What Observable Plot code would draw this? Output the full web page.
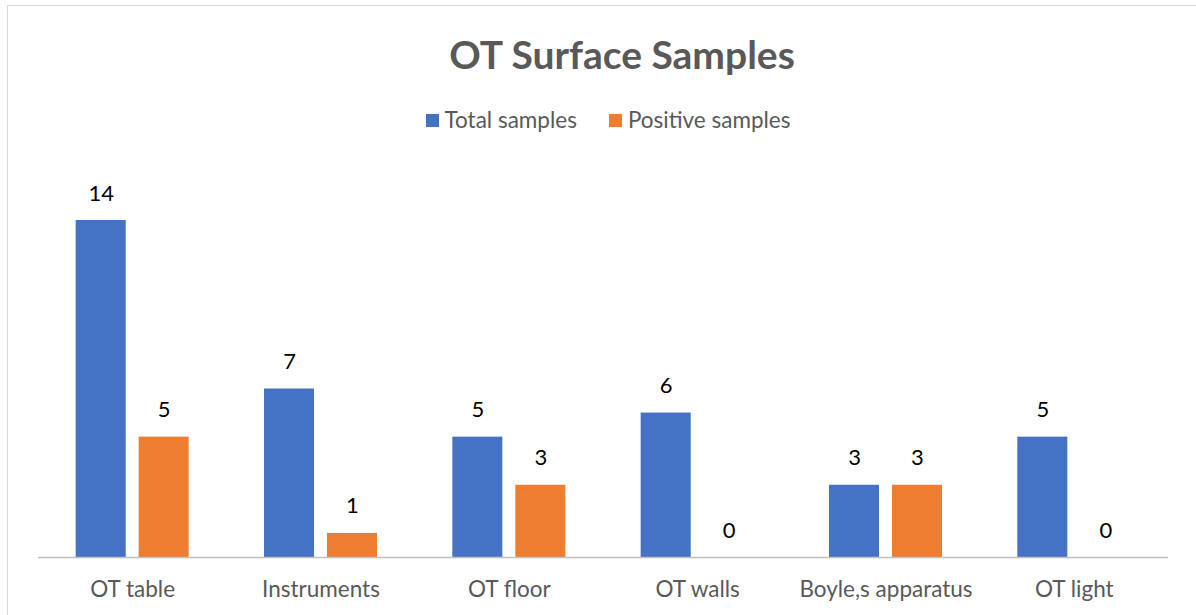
<!DOCTYPE html>
<html>
<head>
<meta charset="utf-8">
<script src="https://cdn.jsdelivr.net/npm/d3@7"></script>
<script src="https://cdn.jsdelivr.net/npm/@observablehq/plot@0.6"></script>
<style>
  html, body { margin: 0; padding: 0; background: #fff; overflow: hidden; width: 1196px; height: 615px; }
  body { position: relative; font-family: Lato, "Open Sans", sans-serif; }
  #frame { position: absolute; left: 7px; top: 5px; width: 1400px; height: 800px; border: 1px solid #d9d9d9; box-sizing: border-box; }
  #title { position: absolute; left: 0; width: 1244px; top: 35px; text-align: center; font-size: 39px; line-height: 39px; font-weight: 700; color: #595959; }
  #legend { position: absolute; left: 0; width: 1216px; top: 107px; display: flex; justify-content: center; gap: 32px; font-size: 22.5px; line-height: 26px; color: #595959; }
  .item { display: flex; align-items: center; gap: 6px; }
  .sw { width: 13px; height: 13px; display: inline-block; }
  #chart { position: absolute; left: 0; top: 140px; }
</style>
</head>
<body>
<div id="frame"></div>
<div id="title">OT Surface Samples</div>
<div id="legend"></div>
<div id="chart"></div>
<script>
const categories = ["OT table", "Instruments", "OT floor", "OT walls", "Boyle,s apparatus", "OT light"];
const seriesNames = ["Total samples", "Positive samples"];
const totalSamples = [14, 7, 5, 6, 3, 5];
const positiveSamples = [5, 1, 3, 0, 3, 0];
const seriesColors = ["#4472C4", "#ED7D31"];

const data = [];
categories.forEach((c, i) => {
  data.push({category: c, series: seriesNames[0], value: totalSamples[i]});
  data.push({category: c, series: seriesNames[1], value: positiveSamples[i]});
});

const legend = document.getElementById("legend");
seriesNames.forEach((s, i) => {
  const it = document.createElement("div");
  it.className = "item";
  const sw = document.createElement("span");
  sw.className = "sw";
  sw.style.background = seriesColors[i];
  const t = document.createElement("span");
  t.textContent = s;
  it.appendChild(sw); it.appendChild(t);
  legend.appendChild(it);
});

const chart = Plot.plot({
  width: 1196,
  height: 475,
  marginLeft: 38,
  marginRight: 28,
  marginTop: 80,
  marginBottom: 58,
  style: {fontFamily: "Lato, 'Open Sans', sans-serif", background: "transparent"},
  fx: {domain: categories, paddingInner: 0.4, paddingOuter: 0.2, round: false, label: null},
  x: {domain: seriesNames, paddingInner: 0.206, paddingOuter: 0, round: false, axis: null},
  y: {domain: [0, 14], axis: null},
  color: {domain: seriesNames, range: seriesColors},
  marks: [
    Plot.barY(data, {fx: "category", x: "series", y: "value", fill: "series"}),
    Plot.text(data, {fx: "category", x: "series", y: "value", text: d => String(d.value), dy: -27, lineAnchor: "middle", fontSize: 22, fill: "#000"}),
    Plot.axisFx({anchor: "bottom", tickSize: 0, tickPadding: 24, fontSize: 22.5, fill: "#595959", label: null})
  ]
});
// baseline axis line spanning the full category axis, positioned via the plot's own scales
const fxRange = chart.scale("fx").range;
const y0 = chart.scale("y").apply(0);
d3.select(chart).append("line")
  .attr("x1", fxRange[0]).attr("x2", fxRange[1])
  .attr("y1", y0 + 0.5).attr("y2", y0 + 0.5)
  .attr("stroke", "#bfbfbf").attr("stroke-width", 1.3);
document.getElementById("chart").appendChild(chart);
</script>
</body>
</html>
